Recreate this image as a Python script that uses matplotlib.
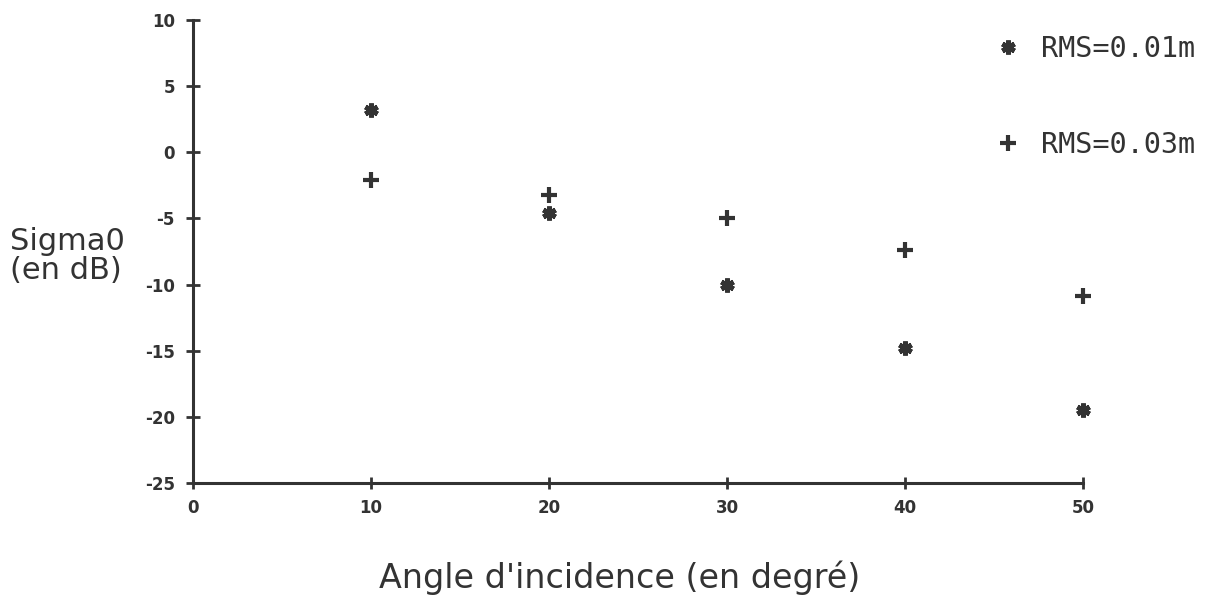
import numpy as np
import matplotlib
matplotlib.use("Agg")
import matplotlib.pyplot as plt

# --- DATA ---
angles = [10, 20, 30, 40, 50]
sigma_rms_001 = [3.2, -4.6, -10.0, -14.8, -19.5]
sigma_rms_003 = [-2.1, -3.2, -4.95, -7.4, -10.9]
labels = ["RMS=0.01m", "RMS=0.03m"]
xticks = [0, 10, 20, 30, 40, 50]
yticks = [10, 5, 0, -5, -10, -15, -20, -25]

INK = "#333333"
plt.rcParams["axes.unicode_minus"] = False

fig = plt.figure(figsize=(12.08, 5.99), dpi=100)
ax = fig.add_axes([193 / 1208, 1 - 483 / 599, (1083 - 193) / 1208, 463 / 599])

h1, = ax.plot(angles, sigma_rms_001, linestyle="none", marker=(6, 2, 0),
              markersize=10, markeredgewidth=3.5, color=INK, label=labels[0],
              clip_on=False)
h2, = ax.plot(angles, sigma_rms_003, linestyle="none", marker="+",
              markersize=11, markeredgewidth=3, color=INK, label=labels[1],
              clip_on=False)

ax.set_xlim(0, 50)
ax.set_ylim(-25, 10)
ax.set_xticks(xticks)
ax.set_yticks(yticks)

for side in ("top", "right"):
    ax.spines[side].set_visible(False)
for side in ("left", "bottom"):
    ax.spines[side].set_linewidth(2.2)
    ax.spines[side].set_color(INK)

ax.tick_params(axis="y", direction="inout", length=10, width=2, color=INK,
               pad=8, labelsize=12, labelcolor=INK)
ax.tick_params(axis="x", direction="inout", length=9, width=2, color=INK,
               pad=7, labelsize=12, labelcolor=INK)
for lab in ax.get_xticklabels() + ax.get_yticklabels():
    lab.set_fontweight("bold")

fig.text(10 / 1208, 1 - 256 / 599, "Sigma0\n(en dB)", fontsize=22,
         color=INK, ha="left", va="center", linespacing=1.0)
fig.text(620 / 1208, 1 - 578 / 599, "Angle d'incidence (en degré)",
         fontsize=24, color=INK, ha="center", va="center")

fig.legend(handles=[h1, h2], loc="upper left",
           bbox_to_anchor=(994 / 1208, 1 - 35 / 599), frameon=False,
           prop={"family": "DejaVu Sans Mono", "size": 20.5},
           labelcolor=INK, handlelength=1.0, handletextpad=0.65,
           labelspacing=2.4, borderaxespad=0, borderpad=0)

fig.savefig("out.png", dpi=100)
